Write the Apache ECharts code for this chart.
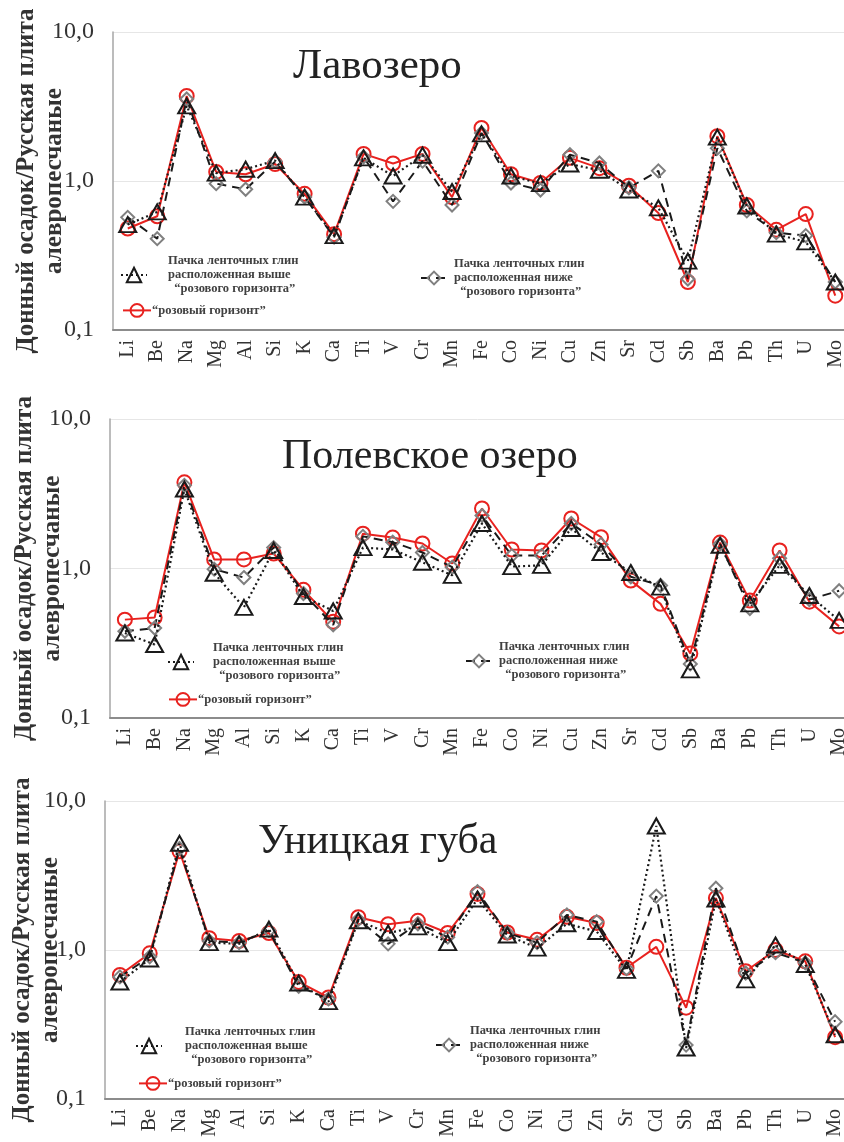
<!DOCTYPE html>
<html>
<head>
<meta charset="utf-8">
<script src="https://cdn.jsdelivr.net/npm/echarts@6/dist/echarts.min.js"></script>
<style>
html,body{margin:0;padding:0;background:#fff;}
#c{width:844px;height:1142px;}
</style>
</head>
<body>
<div id="c"></div>
<script>
const categories = ['Li','Be','Na','Mg','Al','Si','K','Ca','Ti','V','Cr','Mn','Fe','Co','Ni','Cu','Zn','Sr','Cd','Sb','Ba','Pb','Th','U','Mo'];
const yTickValues = [0.1, 1, 10];
const yTickLabels = ['0,1', '1,0', '10,0'];
const panelTitles = ['Лавозеро', 'Полевское озеро', 'Уницкая губа'];
const yAxisTitle = 'Донный осадок/Русская плита\nалевропесчаные';
const nameAbove = 'Пачка ленточных глин расположенная выше “розового горизонта”';
const nameBelow = 'Пачка ленточных глин расположенная ниже “розового горизонта”';
const namePink = '“розовый горизонт”';

// Лавозеро
const lavAbove = [0.51,0.62,3.19,1.13,1.20,1.37,0.78,0.43,1.43,1.08,1.49,0.85,2.07,1.08,0.96,1.30,1.18,0.87,0.66,0.29,1.97,0.68,0.44,0.39,0.21];
const lavBelow = [0.57,0.41,3.55,0.96,0.88,1.35,0.78,0.42,1.45,0.73,1.36,0.69,2.10,0.97,0.87,1.50,1.32,0.90,1.17,0.22,1.66,0.63,0.45,0.43,0.21];
const lavPink  = [0.48,0.58,3.72,1.15,1.11,1.30,0.82,0.44,1.52,1.31,1.52,0.78,2.27,1.11,0.97,1.43,1.22,0.93,0.61,0.21,2.00,0.69,0.47,0.60,0.17];
// Полевское озеро
const polAbove = [0.37,0.31,3.40,0.93,0.55,1.32,0.65,0.52,1.38,1.34,1.10,0.90,2.00,1.03,1.05,1.85,1.28,0.94,0.75,0.21,1.43,0.58,1.05,0.66,0.45];
const polBelow = [0.38,0.40,3.60,0.99,0.87,1.38,0.68,0.42,1.64,1.50,1.28,1.02,2.26,1.22,1.22,2.00,1.45,0.88,0.77,0.23,1.46,0.54,1.17,0.62,0.71];
const polPink  = [0.455,0.47,3.77,1.15,1.15,1.26,0.72,0.44,1.71,1.61,1.47,1.08,2.52,1.34,1.32,2.16,1.62,0.83,0.58,0.27,1.49,0.61,1.32,0.60,0.41];
// Уницкая губа
const uniAbove = [0.61,0.87,5.20,1.12,1.10,1.38,0.60,0.45,1.57,1.30,1.43,1.12,2.20,1.26,1.03,1.50,1.33,0.73,6.80,0.22,2.20,0.63,1.08,0.80,0.27];
const uniBelow = [0.66,0.90,4.80,1.15,1.12,1.35,0.57,0.47,1.60,1.10,1.50,1.22,2.46,1.30,1.12,1.72,1.55,0.75,2.30,0.23,2.60,0.70,0.96,0.82,0.33];
const uniPink  = [0.68,0.95,4.60,1.20,1.15,1.30,0.61,0.48,1.66,1.49,1.57,1.30,2.38,1.31,1.17,1.67,1.52,0.76,1.05,0.41,2.23,0.72,1.00,0.84,0.26];

const panelData = [
  [lavAbove, lavBelow, lavPink],
  [polAbove, polBelow, polPink],
  [uniAbove, uniBelow, uniPink]
];

const SERIF = '"Liberation Serif","DejaVu Serif",serif';
const RED = '#e8221f';
const BLACK = '#1a1a1a';

const grids = [
  {left:113, top:32, width:737, height:298},
  {left:110, top:419, width:744, height:299},
  {left:105, top:801, width:745, height:298}
];
const nameGaps = [44, 43, 40];
const titlePos = [
  {left:293, top:45, size:43},
  {left:282, top:436, size:42},
  {left:258, top:821, size:42}
];
const legendPos = [
  {above:[120,254,16], pink:[122,303], below:[420,257,2]},
  {above:[167,641,14], pink:[168,692], below:[465,640,2]},
  {above:[135,1025,18], pink:[138,1076], below:[435,1024,3]}
];

const legendFmt = function(n){
  if (n === nameAbove) return 'Пачка ленточных глин\nрасположенная выше\n  “розового горизонта”';
  if (n === nameBelow) return 'Пачка ленточных глин\nрасположенная ниже\n  “розового горизонта”';
  return n;
};
const legendText = {fontFamily:SERIF, fontWeight:'bold', fontSize:12.5, lineHeight:14, color:'#404040'};

const option = {
  animation:false,
  backgroundColor:'#fff',
  title: panelTitles.map((t,i)=>({
    text:t, left:titlePos[i].left, top:titlePos[i].top, padding:0,
    textStyle:{fontFamily:SERIF, fontWeight:'normal', fontSize:titlePos[i].size, color:'#222'}
  })),
  grid: grids.map(g=>Object.assign({containLabel:false, outerBoundsMode:'none'}, g)),
  xAxis: grids.map((g,i)=>({
    type:'category', gridIndex:i, data:categories, boundaryGap:true,
    axisLine:{show:true, lineStyle:{color:'#8c8c8c', width:2}},
    axisTick:{show:false},
    axisLabel:{rotate:90, interval:0, margin:10, fontFamily:SERIF, fontSize:20, color:'#333'},
    splitLine:{show:false}
  })),
  yAxis: grids.map((g,i)=>({
    type:'log', logBase:10, gridIndex:i, min:0.1, max:10,
    name:yAxisTitle, nameLocation:'middle', nameRotate:90, nameGap:nameGaps[i], nameMoveOverlap:false,
    nameTextStyle:{fontFamily:SERIF, fontWeight:'bold', fontSize:25, lineHeight:28, color:'#333'},
    axisLine:{show:true, lineStyle:{color:'#a6a6a6', width:1.5}},
    axisTick:{show:false},
    axisLabel:{margin:19, fontFamily:SERIF, fontSize:24, color:'#333',
      formatter:function(v){
        const k = Math.round(Math.log10(v));
        const idx = yTickValues.findIndex(t=>Math.round(Math.log10(t))===k);
        return idx>=0 ? yTickLabels[idx] : '';
      }},
    splitLine:{show:true, lineStyle:{color:'#e6e6e6', width:1}}
  })),
  legend: [],
  series: []
};

panelData.forEach((d,i)=>{
  option.series.push({
    name:namePink, type:'line', xAxisIndex:i, yAxisIndex:i, data:d[2],
    symbol:'circle', symbolSize:14, z:2,
    lineStyle:{color:RED, width:2, type:'solid'},
    itemStyle:{color:'rgba(255,255,255,0)', borderColor:RED, borderWidth:2}
  });
  option.series.push({
    name:nameBelow, type:'line', xAxisIndex:i, yAxisIndex:i, data:d[1],
    symbol:'diamond', symbolSize:13, z:3,
    lineStyle:{color:BLACK, width:2, type:[9,6]},
    itemStyle:{color:'rgba(255,255,255,0)', borderColor:'#808080', borderWidth:2}
  });
  option.series.push({
    name:nameAbove, type:'line', xAxisIndex:i, yAxisIndex:i, data:d[0],
    symbol:'triangle', symbolSize:[17,15], z:4,
    lineStyle:{color:BLACK, width:2.2, type:[2,3]},
    itemStyle:{color:'rgba(255,255,255,0)', borderColor:BLACK, borderWidth:2}
  });
  const lp = legendPos[i];
  option.legend.push({
    data:[nameAbove], left:lp.above[0], top:lp.above[1], padding:0,
    itemWidth:26, itemHeight:18, formatter:legendFmt,
    textStyle:Object.assign({padding:[0,0,0,lp.above[2]]}, legendText)
  });
  option.legend.push({
    data:[namePink], left:lp.pink[0], top:lp.pink[1], padding:0,
    itemWidth:28, itemHeight:16, formatter:legendFmt,
    textStyle:Object.assign({padding:[0,0,0,-4]}, legendText)
  });
  option.legend.push({
    data:[nameBelow], left:lp.below[0], top:lp.below[1], padding:0,
    itemWidth:26, itemHeight:16, formatter:legendFmt,
    textStyle:Object.assign({padding:[0,0,0,lp.below[2]]}, legendText)
  });
});

const chart = echarts.init(document.getElementById('c'), null, {renderer:'canvas'});
chart.setOption(option);
</script>
</body>
</html>
